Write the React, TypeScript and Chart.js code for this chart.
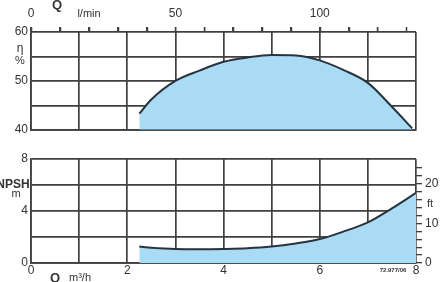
import React, { useEffect, useRef } from "react";
import { Chart, registerables } from "chart.js";

Chart.register(...registerables);

// Efficiency curve (Q in m³/h, η in %)
const effFlow = [2.25, 2.5, 3, 3.5, 4, 4.5, 5, 5.5, 6, 6.5, 7, 7.5, 7.92];
const efficiency = [43.3, 46.2, 50.0, 52.1, 53.9, 54.8, 55.3, 55.2, 54.2, 52.2, 49.6, 44.7, 40.3];

// NPSH curve (Q in m³/h, NPSH in m)
const npshFlow = [2.25, 2.5, 3, 3.5, 4, 4.5, 5, 5.5, 6, 6.5, 7, 7.5, 8];
const npsh = [1.26, 1.18, 1.08, 1.06, 1.08, 1.13, 1.26, 1.5, 1.84, 2.43, 3.12, 4.2, 5.4];

// Axis ranges / tick labels
const qMaxM3h = 8;
const qMaxLmin = (qMaxM3h * 1000) / 60;
const lminTicks = [0, 10, 20, 30, 40, 50, 60, 70, 80, 90, 100, 110, 120, 130];
const lminLabels = [0, 50, 100];
const effLabels = [40, 50, 60];
const npshLabels = [0, 4, 8];
const ftLabels = [0, 10, 20];
const qLabels = [0, 2, 4, 6, 8];
const M_PER_FT = 0.3048;

const FONT = "'Liberation Sans', Arial, sans-serif";
const GRID = "#404040";
const TEXT = "#333333";
const FILL = "#a9dcf4";
const LINE = "#263340";

type TextItem = { text: string; x: number; y: number; font: string; align?: CanvasTextAlign; color?: string };

const textPlugin = (id: string, items: TextItem[]) => ({
  id,
  afterDraw(chart: any) {
    const ctx = chart.ctx as CanvasRenderingContext2D;
    ctx.save();
    for (const it of items) {
      ctx.font = it.font;
      ctx.fillStyle = it.color || TEXT;
      ctx.textAlign = it.align || "center";
      ctx.textBaseline = "middle";
      ctx.fillText(it.text, it.x, it.y);
    }
    ctx.restore();
  },
});

// small upward tick marks of the top (l/min) axis, placed through the x2 scale
const topTickPlugin = {
  id: "topTicks",
  afterDraw(chart: any) {
    const s = chart.scales["x2"];
    const ctx = chart.ctx as CanvasRenderingContext2D;
    const yTop = Math.round(chart.chartArea.top);
    ctx.save();
    ctx.strokeStyle = GRID;
    ctx.lineWidth = 1.5;
    for (const v of lminTicks) {
      const px = Math.round(s.getPixelForValue(v)) + 0.5;
      ctx.beginPath();
      ctx.moveTo(px, yTop);
      ctx.lineTo(px, yTop - 5);
      ctx.stroke();
    }
    ctx.restore();
  },
};

const gridOpts = { color: GRID, lineWidth: 1.7, drawTicks: false };
const tickFont = { family: FONT, size: 12 };

export default function App() {
  const topRef = useRef<HTMLCanvasElement>(null);
  const botRef = useRef<HTMLCanvasElement>(null);

  useEffect(() => {
    const top = new Chart(topRef.current!, {
      type: "line",
      data: {
        datasets: [
          {
            data: effFlow.map((q, i) => ({ x: q, y: efficiency[i] })),
            borderColor: LINE,
            borderWidth: 2,
            backgroundColor: FILL,
            fill: "start",
            pointRadius: 0,
            cubicInterpolationMode: "monotone",
            xAxisID: "x",
            yAxisID: "y",
          },
        ],
      },
      options: {
        responsive: false,
        animation: false,
        events: [],
        layout: { padding: { left: 0, right: 32, top: 0, bottom: 0 } },
        plugins: { legend: { display: false }, tooltip: { enabled: false } },
        scales: {
          x: {
            type: "linear",
            position: "bottom",
            min: 0,
            max: qMaxM3h,
            z: 1,
            ticks: { display: false, stepSize: 1, autoSkip: false },
            grid: gridOpts,
            border: { color: GRID, width: 1.7 },
            afterFit: (s: any) => { s.height = 6; },
          },
          x2: {
            type: "linear",
            position: "top",
            min: 0,
            max: qMaxLmin,
            ticks: {
              stepSize: 10,
              padding: 6,
              autoSkip: false,
              maxRotation: 0,
              color: TEXT,
              font: { family: FONT, size: 12 },
              callback: (v: any) => (lminLabels.includes(Number(v)) ? String(v) : ""),
            },
            afterBuildTicks: (s: any) => {
              s.ticks = s.ticks.filter((t: any) => Math.abs(t.value % 10) < 1e-6);
            },
            grid: { drawOnChartArea: false, drawTicks: true, tickLength: 5, color: GRID, lineWidth: 1.3 },
            border: { display: false },
            afterFit: (s: any) => { s.height = 32; },
          },
          y: {
            type: "linear",
            position: "left",
            min: 40,
            max: 60,
            z: 1,
            ticks: {
              stepSize: 5,
              padding: 3,
              autoSkip: false,
              color: TEXT,
              font: tickFont,
              callback: (v: any) => (effLabels.includes(Number(v)) ? String(v) : ""),
            },
            grid: gridOpts,
            border: { color: GRID, width: 1.7 },
            afterFit: (s: any) => { s.width = 31; },
          },
        },
      },
      plugins: [
        topTickPlugin,
        textPlugin("topTexts", [
          { text: "Q", x: 57, y: 5, font: `bold 13px ${FONT}` },
          { text: "l/min", x: 89, y: 14, font: `11px ${FONT}` },
          { text: "η", x: 20, y: 49, font: `12px ${FONT}` },
          { text: "%", x: 20, y: 61, font: `11px ${FONT}` },
        ]),
      ],
    } as any);

    const bot = new Chart(botRef.current!, {
      type: "line",
      data: {
        datasets: [
          {
            data: npshFlow.map((q, i) => ({ x: q, y: npsh[i] })),
            borderColor: LINE,
            borderWidth: 2,
            backgroundColor: FILL,
            fill: "start",
            pointRadius: 0,
            cubicInterpolationMode: "monotone",
            xAxisID: "x",
            yAxisID: "y",
          },
        ],
      },
      options: {
        responsive: false,
        animation: false,
        events: [],
        layout: { padding: { left: 0, right: 0, top: 19, bottom: 0 } },
        plugins: { legend: { display: false }, tooltip: { enabled: false } },
        scales: {
          x: {
            type: "linear",
            position: "bottom",
            min: 0,
            max: qMaxM3h,
            z: 1,
            ticks: {
              stepSize: 1,
              padding: 0,
              autoSkip: false,
              maxRotation: 0,
              color: TEXT,
              font: tickFont,
              callback: (v: any) => (qLabels.includes(Number(v)) ? String(v) : ""),
            },
            grid: gridOpts,
            border: { color: GRID, width: 1.7 },
            afterFit: (s: any) => { s.height = 19; },
          },
          y: {
            type: "linear",
            position: "left",
            min: 0,
            max: 8,
            z: 1,
            ticks: {
              stepSize: 2,
              padding: 3,
              autoSkip: false,
              color: TEXT,
              font: tickFont,
              callback: (v: any) => (npshLabels.includes(Number(v)) ? String(v) : ""),
            },
            grid: gridOpts,
            border: { color: GRID, width: 1.7 },
            afterFit: (s: any) => { s.width = 31; },
          },
          y2: {
            type: "linear",
            position: "right",
            min: 0,
            max: 8 / M_PER_FT,
            ticks: {
              stepSize: 2,
              padding: 3,
              autoSkip: false,
              color: TEXT,
              font: tickFont,
              callback: (v: any) => (ftLabels.includes(Number(v)) ? String(v) : ""),
            },
            afterBuildTicks: (s: any) => {
              s.ticks = s.ticks.filter((t: any) => Math.abs(t.value % 2) < 1e-6);
            },
            grid: { drawOnChartArea: false, drawTicks: true, tickLength: 6, color: GRID, lineWidth: 1.3 },
            border: { display: false },
            afterFit: (s: any) => { s.width = 32; },
          },
        },
      },
      plugins: [
        textPlugin("botTexts", [
          { text: "NPSH", x: 13, y: 45, font: `bold 12px ${FONT}` },
          { text: "m", x: 16, y: 54, font: `11px ${FONT}` },
          { text: "Q", x: 55, y: 138, font: `bold 13px ${FONT}` },
          { text: "m³/h", x: 80, y: 138, font: `11px ${FONT}` },
          { text: "ft", x: 430, y: 64, font: `11px ${FONT}` },
          { text: "72.977/06", x: 393, y: 130, font: `bold 6px ${FONT}` },
        ]),
      ],
    } as any);

    return () => {
      top.destroy();
      bot.destroy();
    };
  }, []);

  return (
    <div style={{ position: "fixed", left: 0, top: 0, width: 448, height: 282, background: "#fff" }}>
      <canvas ref={topRef} width={448} height={140} style={{ position: "absolute", left: 0, top: 0 }} />
      <canvas ref={botRef} width={448} height={142} style={{ position: "absolute", left: 0, top: 140 }} />
    </div>
  );
}
